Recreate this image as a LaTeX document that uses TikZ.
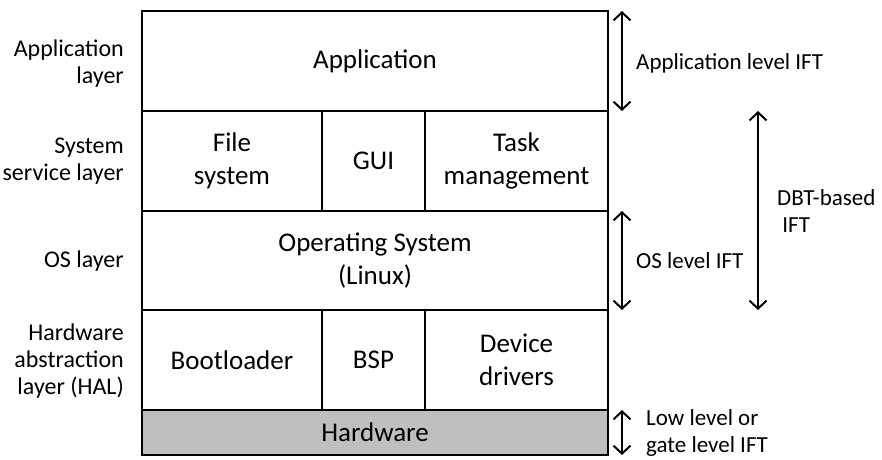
\documentclass[tikz,border=0pt]{standalone}
\usepackage{fontspec}
\setmainfont{Carlito}
\usetikzlibrary{arrows.meta}
\begin{document}
\begin{tikzpicture}[x=1pt,y=-1pt,
        cell/.style={draw,line width=2.4pt,inner sep=0pt,align=center,
            font=\fontsize{27}{33}\selectfont},
        layer/.style={anchor=east,align=right,inner sep=0pt,
            font=\fontsize{24}{27}\selectfont},
        ift/.style={anchor=west,align=left,inner sep=0pt,
            font=\fontsize{23}{27}\selectfont},
        span/.style={{Straight Barb[length=8pt,width=17pt]}-{Straight Barb[length=8pt,width=17pt]},
            line width=2pt}]
        \useasboundingbox (0,0) rectangle (882,459);

        % the layers
        \node[cell,minimum width=466,minimum height=100] (app) at (375,61) {Application};
        \node[cell,minimum width=180,minimum height=100] (fs) at (232,161) {File\\system};
        \node[cell,minimum width=103,minimum height=100] (gui) at (373.5,161) {GUI};
        \node[cell,minimum width=183,minimum height=100] (task) at (516.5,161) {Task\\management};
        \node[cell,minimum width=466,minimum height=99] (os) at (375,260.5) {Operating System\\(Linux)};
        \node[cell,minimum width=180,minimum height=100] (boot) at (232,360) {Bootloader};
        \node[cell,minimum width=103,minimum height=100] (bsp) at (373.5,360) {BSP};
        \node[cell,minimum width=183,minimum height=100] (drv) at (516.5,360) {Device\\drivers};
        \node[cell,fill=black!25,minimum width=466,minimum height=45] (hw) at (375,432.5) {Hardware};

        \node[layer] (lapp) at (124,64) {Application\\layer};
        \node[layer] (lsys) at (124,161) {System\\service layer};
        \node[layer] (los) at (124,261) {OS layer};
        \node[layer] (lhal) at (124,361) {Hardware\\abstraction\\layer (HAL)};

        % IFT ranges
        \coordinate (apptop) at (622,11);
        \coordinate (appbot) at (622,111);
        \coordinate (ostop) at (622,211);
        \coordinate (osbot) at (622,310);
        \coordinate (lowtop) at (622,410);
        \coordinate (lowbot) at (622,455);
        \coordinate (dbttop) at (758,111);
        \coordinate (dbtbot) at (758,310);

        \draw[span] (apptop) -- (appbot);
        \draw[span] (ostop) -- (osbot);
        \draw[span] (lowtop) -- (lowbot);
        \draw[span] (dbttop) -- (dbtbot);

        \node[ift] (tapp) at (636,63) {Application level IFT};
        \node[ift] (tos) at (636,261) {OS level IFT};
        \node[ift] (tlow) at (646,433) {Low level or\\gate level IFT};
        \node[ift] (tdbt) at (777,211) {DBT-based\\\ IFT};
\end{tikzpicture}
\end{document}
